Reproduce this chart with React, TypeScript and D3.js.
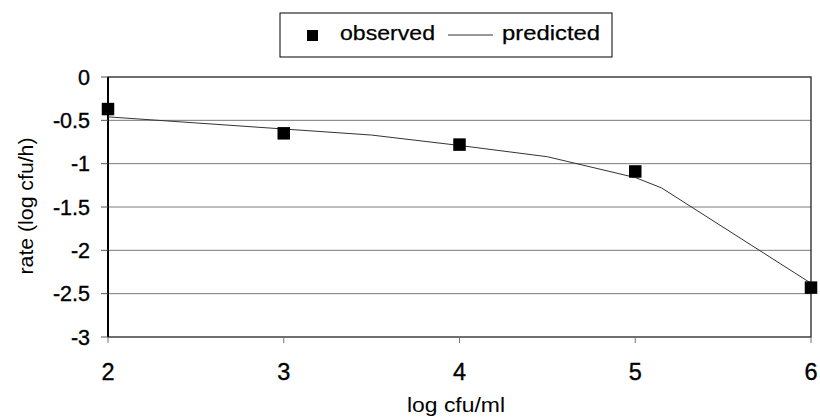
import * as d3 from 'd3'

// observed rates and model prediction (log cfu/h) vs inoculum (log cfu/ml)
const observedX = [2, 3, 4, 5, 6]
const observedY = [-0.37, -0.65, -0.78, -1.09, -2.43]
const predictedX = [2, 3, 3.5, 4, 4.5, 5, 5.15, 6]
const predictedY = [-0.46, -0.6, -0.67, -0.79, -0.92, -1.16, -1.28, -2.38]
const xTicks = [2, 3, 4, 5, 6]
const yTicks = [0, -0.5, -1, -1.5, -2, -2.5, -3]

const W = 820
const H = 419
const PLOT = { left: 108, right: 811, top: 77, bottom: 337 }
const FONT = 'Arial, "Liberation Sans", Helvetica, sans-serif'

export default function App() {
  const x = d3.scaleLinear().domain([2, 6]).range([PLOT.left, PLOT.right])
  const y = d3.scaleLinear().domain([-3, 0]).range([PLOT.bottom, PLOT.top])

  const predicted = predictedX.map((v, i) => [v, predictedY[i]] as [number, number])
  const line = d3.line<[number, number]>()
    .x((d) => x(d[0]))
    .y((d) => y(d[1]))

  const m = 12.5

  return (
    <svg width={W} height={H} style={{ position: 'absolute', left: 0, top: 0, background: '#fff' }}
      fontFamily={FONT}>
      {/* grid */}
      {yTicks.filter((t) => t !== 0 && t !== -3).map((t) => (
        <line key={t} x1={PLOT.left} x2={PLOT.right} y1={y(t)} y2={y(t)} stroke="#7a7a7a" strokeWidth={1} />
      ))}

      {/* frame */}
      <rect x={PLOT.left} y={PLOT.top} width={PLOT.right - PLOT.left} height={PLOT.bottom - PLOT.top}
        fill="none" stroke="#222" strokeWidth={1.3} />
      <line x1={PLOT.left} x2={PLOT.left} y1={PLOT.top} y2={PLOT.bottom} stroke="#000" strokeWidth={2} />

      {/* y axis ticks + labels */}
      {yTicks.map((t) => (
        <g key={t}>
          <line x1={PLOT.left - 7} x2={PLOT.left} y1={y(t)} y2={y(t)} stroke="#555" strokeWidth={1} />
          <text x={90} y={y(t)} dy="0.36em" textAnchor="end" fontSize={21.5} fill="#000"
            stroke="#000" strokeWidth={0.35}>
            {t}
          </text>
        </g>
      ))}

      {/* x axis ticks + labels */}
      {xTicks.map((t) => (
        <g key={t}>
          <line x1={x(t)} x2={x(t)} y1={PLOT.bottom} y2={PLOT.bottom + 6} stroke="#777" strokeWidth={1} />
          <text x={x(t)} y={380} textAnchor="middle" fontSize={23.5} fill="#000"
            stroke="#000" strokeWidth={0.35}>
            {t}
          </text>
        </g>
      ))}

      {/* predicted */}
      <path d={line(predicted) ?? ''} fill="none" stroke="#333" strokeWidth={1} />

      {/* observed */}
      {observedX.map((v, i) => (
        <rect key={v} x={x(v) - m / 2} y={y(observedY[i]) - m / 2} width={m} height={m} fill="#000" />
      ))}

      {/* axis titles */}
      <text x={456} y={412} textAnchor="middle" fontSize={20} textLength={98} lengthAdjust="spacingAndGlyphs">
        log cfu/ml
      </text>
      <text transform="translate(33,206) rotate(-90)" textAnchor="middle" fontSize={20}
        textLength={137} lengthAdjust="spacingAndGlyphs">
        rate (log cfu/h)
      </text>

      {/* legend */}
      <rect x={280} y={13} width={332} height={44} fill="#fff" stroke="#000" strokeWidth={1} />
      <rect x={307} y={30} width={11} height={11} fill="#000" />
      <text x={340} y={40} fontSize={21} textLength={95} lengthAdjust="spacingAndGlyphs"
        stroke="#000" strokeWidth={0.25}>observed</text>
      <line x1={448} x2={493} y1={35} y2={35} stroke="#333" strokeWidth={1} />
      <text x={502} y={40} fontSize={21} textLength={98} lengthAdjust="spacingAndGlyphs"
        stroke="#000" strokeWidth={0.25}>predicted</text>
    </svg>
  )
}
